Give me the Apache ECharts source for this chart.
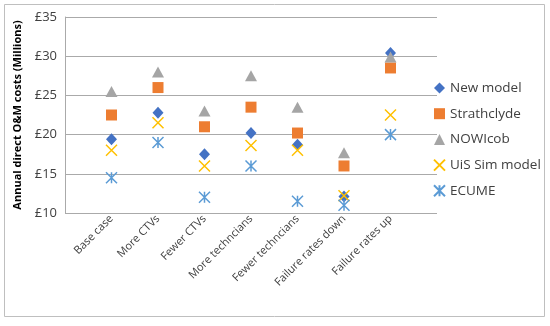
<!DOCTYPE html>
<html><head><meta charset="utf-8">
<script src="https://cdn.jsdelivr.net/npm/echarts@6/dist/echarts.min.js"></script>
<style>html,body{margin:0;padding:0;background:#fff}#c{width:550px;height:326px}</style>
</head><body><div id="c"></div>
<script>
var categories = ["Base case","More CTVs","Fewer CTVs","More techncians","Fewer techncians","Failure rates down","Failure rates up"];
var newModel    = [19.4, 22.8, 17.5, 20.2, 18.7, 12.1, 30.4];
var strathclyde = [22.5, 26.0, 21.0, 23.5, 20.2, 16.0, 28.5];
var nowicob     = [25.5, 28.0, 23.0, 27.5, 23.5, 17.7, 29.9];
var uisSim      = [18.0, 21.5, 16.0, 18.6, 18.0, 12.2, 22.5];
var ecume       = [14.5, 19.0, 12.0, 16.0, 11.5, 11.0, 20.0];
var yTicks = ["£10","£15","£20","£25","£30","£35"];

function pts(arr){ return arr.map(function(v,i){ return [i+1, v]; }); }
var XPATH = 'path://M0,0 L10,10 M10,0 L0,10';
var STAR = 'path://M0,0 L10,10 M10,0 L0,10 M5,0 L5,10';

var chart = echarts.init(document.getElementById('c'));
var font = 'Open Sans';
chart.setOption({
  animation:false,
  backgroundColor:'#fff',
  graphic:[{type:'rect',shape:{x:4.5,y:4.5,width:540,height:312},style:{fill:'none',stroke:'#bfbfbf',lineWidth:1}}],
  grid:{left:65,right:113,top:17,bottom:113},
  legend:{
    orient:'vertical', left:428, top:76, itemWidth:11, itemHeight:11, itemGap:11.7,
    padding:[5,5,5,5],
    textStyle:{fontFamily:font,fontSize:13.5,color:'#404040'},
    data:['New model','Strathclyde','NOWIcob','UiS Sim model','ECUME']
  },
  xAxis:{
    type:'value', min:0, max:8, interval:1,
    axisLine:{show:false}, axisTick:{show:false}, splitLine:{show:false},
    axisLabel:{rotate:45, margin:4, fontFamily:font, fontSize:11, color:'#404040',
      formatter:function(v){ return (v>=1 && v<=categories.length) ? categories[v-1] : ''; }}
  },
  yAxis:{
    type:'value', min:10, max:35, interval:5,
    name:'Annual direct O&M costs (Millions)', nameLocation:'middle', nameGap:42,
    nameTextStyle:{fontFamily:font,fontSize:11,fontWeight:'bold',color:'#000'},
    axisLine:{show:true,lineStyle:{color:'#aaaaaa',width:1}},
    axisTick:{show:false},
    splitLine:{lineStyle:{color:'#aaaaaa',width:1}},
    axisLabel:{fontFamily:font,fontSize:13,color:'#404040',margin:8,
      formatter:function(v){ return yTicks[(v-10)/5]; }}
  },
  series:[
    {name:'New model',type:'scatter',symbol:'diamond',symbolSize:[11,12],data:pts(newModel),itemStyle:{color:'#4472C4',opacity:1}},
    {name:'Strathclyde',type:'scatter',symbol:'rect',symbolSize:11,data:pts(strathclyde),itemStyle:{color:'#ED7D31',opacity:1}},
    {name:'NOWIcob',type:'scatter',symbol:'triangle',symbolSize:[12,11],data:pts(nowicob),itemStyle:{color:'#A5A5A5',opacity:1}},
    {name:'UiS Sim model',type:'scatter',symbol:XPATH,symbolSize:11,data:pts(uisSim),itemStyle:{color:'rgba(0,0,0,0)',borderColor:'#FFC000',borderWidth:1.5,opacity:1}},
    {name:'ECUME',type:'scatter',symbol:STAR,symbolSize:11,data:pts(ecume),itemStyle:{color:'rgba(0,0,0,0)',borderColor:'#5B9BD5',borderWidth:1.5,opacity:1}}
  ]
});
</script></body></html>
